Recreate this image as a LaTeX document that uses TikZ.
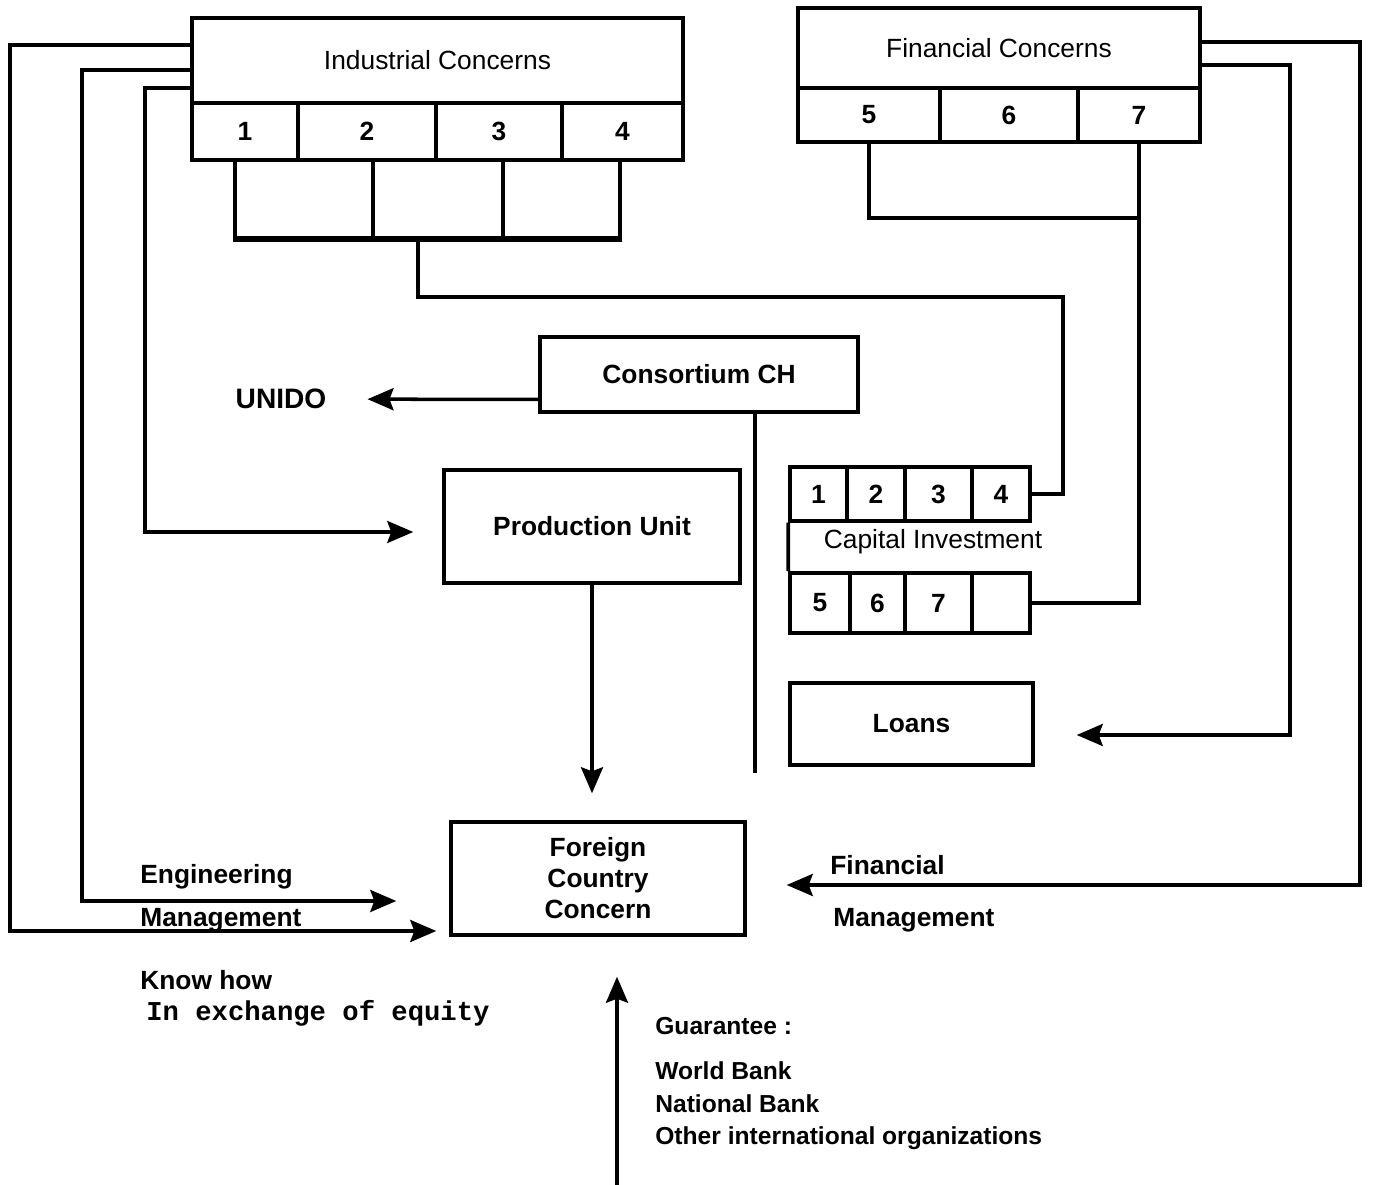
\documentclass[tikz,border=0pt]{standalone}
\usepackage{fontspec}
\setmainfont{Liberation Sans}
\setmonofont{Liberation Mono}
\usetikzlibrary{arrows.meta, positioning, calc}

\begin{document}
\begin{tikzpicture}[
  x=0.02cm, y=-0.02cm,
  >={Stealth[length=5.2mm, width=4.4mm, inset=0.8mm]},
  box/.style={draw, line width=2pt, inner sep=2pt, align=center,
    font=\fontsize{15}{17.6}\selectfont\bfseries},
  head/.style={box, font=\fontsize{15}{17.6}\selectfont},
  cell/.style={box, minimum width=#1},
  line/.style={line width=2pt},
  arr/.style={->, line width=2pt},
  lbl/.style={font=\fontsize{15}{18}\selectfont\bfseries, anchor=west, inner sep=0pt},
]

\useasboundingbox (0,0) rectangle (1384,1185);

% Industrial concerns
\node[head, minimum width=9.82cm, minimum height=1.7cm] (ic) at (437.5,60.5)
  {Industrial Concerns};
\node[cell=2.12cm, minimum height=1.14cm] (ic1) at (245,131.5) {1};
\node[cell=2.76cm, minimum height=1.14cm] (ic2) at (367,131.5) {2};
\node[cell=2.52cm, minimum height=1.14cm] (ic3) at (499,131.5) {3};
\node[cell=2.42cm, minimum height=1.14cm] (ic4) at (622.5,131.5) {4};

% empty boxes under the industrial concerns
\node[cell=2.76cm, minimum height=1.56cm] (ics1) at (304,199) {};
\node[cell=2.6cm, minimum height=1.56cm] (ics2) at (438,199) {};
\node[cell=2.34cm, minimum height=1.56cm] (ics3) at (561.5,199) {};

% Financial concerns
\node[head, minimum width=8.04cm, minimum height=1.6cm] (fc) at (999,48)
  {Financial Concerns};
\node[cell=2.84cm, minimum height=1.08cm] (fc5) at (869,115) {5};
\node[cell=2.76cm, minimum height=1.08cm] (fc6) at (1009,115) {6};
\node[cell=2.44cm, minimum height=1.08cm] (fc7) at (1139,115) {7};

% Consortium and UNIDO
\node[box, minimum width=6.36cm, minimum height=1.5cm] (cons) at (699,374.5)
  {Consortium CH};
\node[font=\fontsize{16}{18}\selectfont\bfseries] (unido) at (281,399) {UNIDO};

% Production unit
\node[box, minimum width=5.92cm, minimum height=2.26cm] (pu) at (592,526.5)
  {Production Unit};

% Capital investment
\node[cell=1.14cm, minimum height=1.08cm] (ci1) at (818.5,494) {1};
\node[cell=1.16cm, minimum height=1.08cm] (ci2) at (876,494) {2};
\node[cell=1.34cm, minimum height=1.08cm] (ci3) at (938.5,494) {3};
\node[cell=1.16cm, minimum height=1.08cm] (ci4) at (1001,494) {4};
\node[font=\fontsize{15}{17.6}\selectfont] (capinv) at (933,542) {Capital Investment};
\node[cell=1.2cm, minimum height=1.2cm] (ck1) at (820,603) {5};
\node[cell=1.1cm, minimum height=1.2cm] (ck2) at (877.5,603) {6};
\node[cell=1.34cm, minimum height=1.2cm] (ck3) at (938.5,603) {7};
\node[cell=1.16cm, minimum height=1.2cm] (ck4) at (1001,603) {};
\draw[line] (ci1.south west) -- (ck1.north west);

% Loans
\node[box, minimum width=4.86cm, minimum height=1.64cm] (loans) at (911.5,724)
  {Loans};

% Foreign country concern
\node[box, minimum width=5.88cm, minimum height=2.26cm] (fcc) at (598,878.5)
  {Foreign\\Country\\Concern};

% Labels
\node[lbl] (eng) at (140,877) {Engineering};
\node[lbl] (mgl) at (140,920) {Management};
\node[lbl] (know) at (140,980) {Know how};
\node[lbl, font=\fontsize{15.5}{18}\selectfont\ttfamily\bfseries] (equity) at (146,1013)
  {In exchange of equity};
\node[lbl] (fin) at (830,865) {Financial};
\node[lbl] (mgr) at (833,920) {Management};
\node[lbl, anchor=north west, align=left, font=\fontsize{14}{18.6}\selectfont\bfseries]
  (guar) at (655,1017)
  {Guarantee :\\[7pt] World Bank\\ National Bank\\ Other international organizations};

% Turning points
\coordinate (ic-bend) at (1063,297);
\coordinate (cons-end) at (755,773);
\coordinate (ll1) at (10,931);
\coordinate (ll2) at (82,901);
\coordinate (ll3) at (145,532);
\coordinate (rr1) at (1360,885);
\coordinate (rr2) at (1290,735);
\coordinate (guar-bot) at (617,1185);

% Industrial concerns to capital investment
\draw[line] (ics1.south west) -- (ics3.south east);
\draw[line] ([xshift=-4mm]ics2.south) |- (ic-bend) |- (ci4.east);

% Financial concerns to capital investment
\draw[line] (fc5.south) |- (fc7.south |- 0,218);
\draw[line] (fc7.south) |- (ck4.east);

% Consortium
\draw[arr, shorten >=7mm] ([yshift=-5mm]cons.west) -- (unido);
\draw[line] (cons-end |- cons.south) -- (cons-end);
\draw[arr, shorten >=5.4mm] (pu.south) -- (pu.south |- fcc.north);

% Left side: know how
\draw[arr, shorten >=2.6mm] ([yshift=3.1mm]ic.west) -| (ll1) -- (fcc.west |- ll1);
\draw[arr, shorten >=10.6mm] ([yshift=-1.9mm]ic.west) -| (ll2) -- (fcc.west |- ll2);
\draw[arr, shorten >=5.8mm] ([yshift=-5.5mm]ic.west) -| (ll3) -- (pu.west |- ll3);

% Right side: finance
\draw[arr, shorten >=8mm] ([yshift=1.2mm]fc.east) -| (rr1) -- (fcc.east |- rr1);
\draw[arr, shorten >=8.4mm] ([yshift=-3.4mm]fc.east) -| (rr2) -- (loans.east |- rr2);

% Guarantee
\draw[arr, shorten >=8mm] (guar-bot) -- (guar-bot |- fcc.south);

\end{tikzpicture}
\end{document}
